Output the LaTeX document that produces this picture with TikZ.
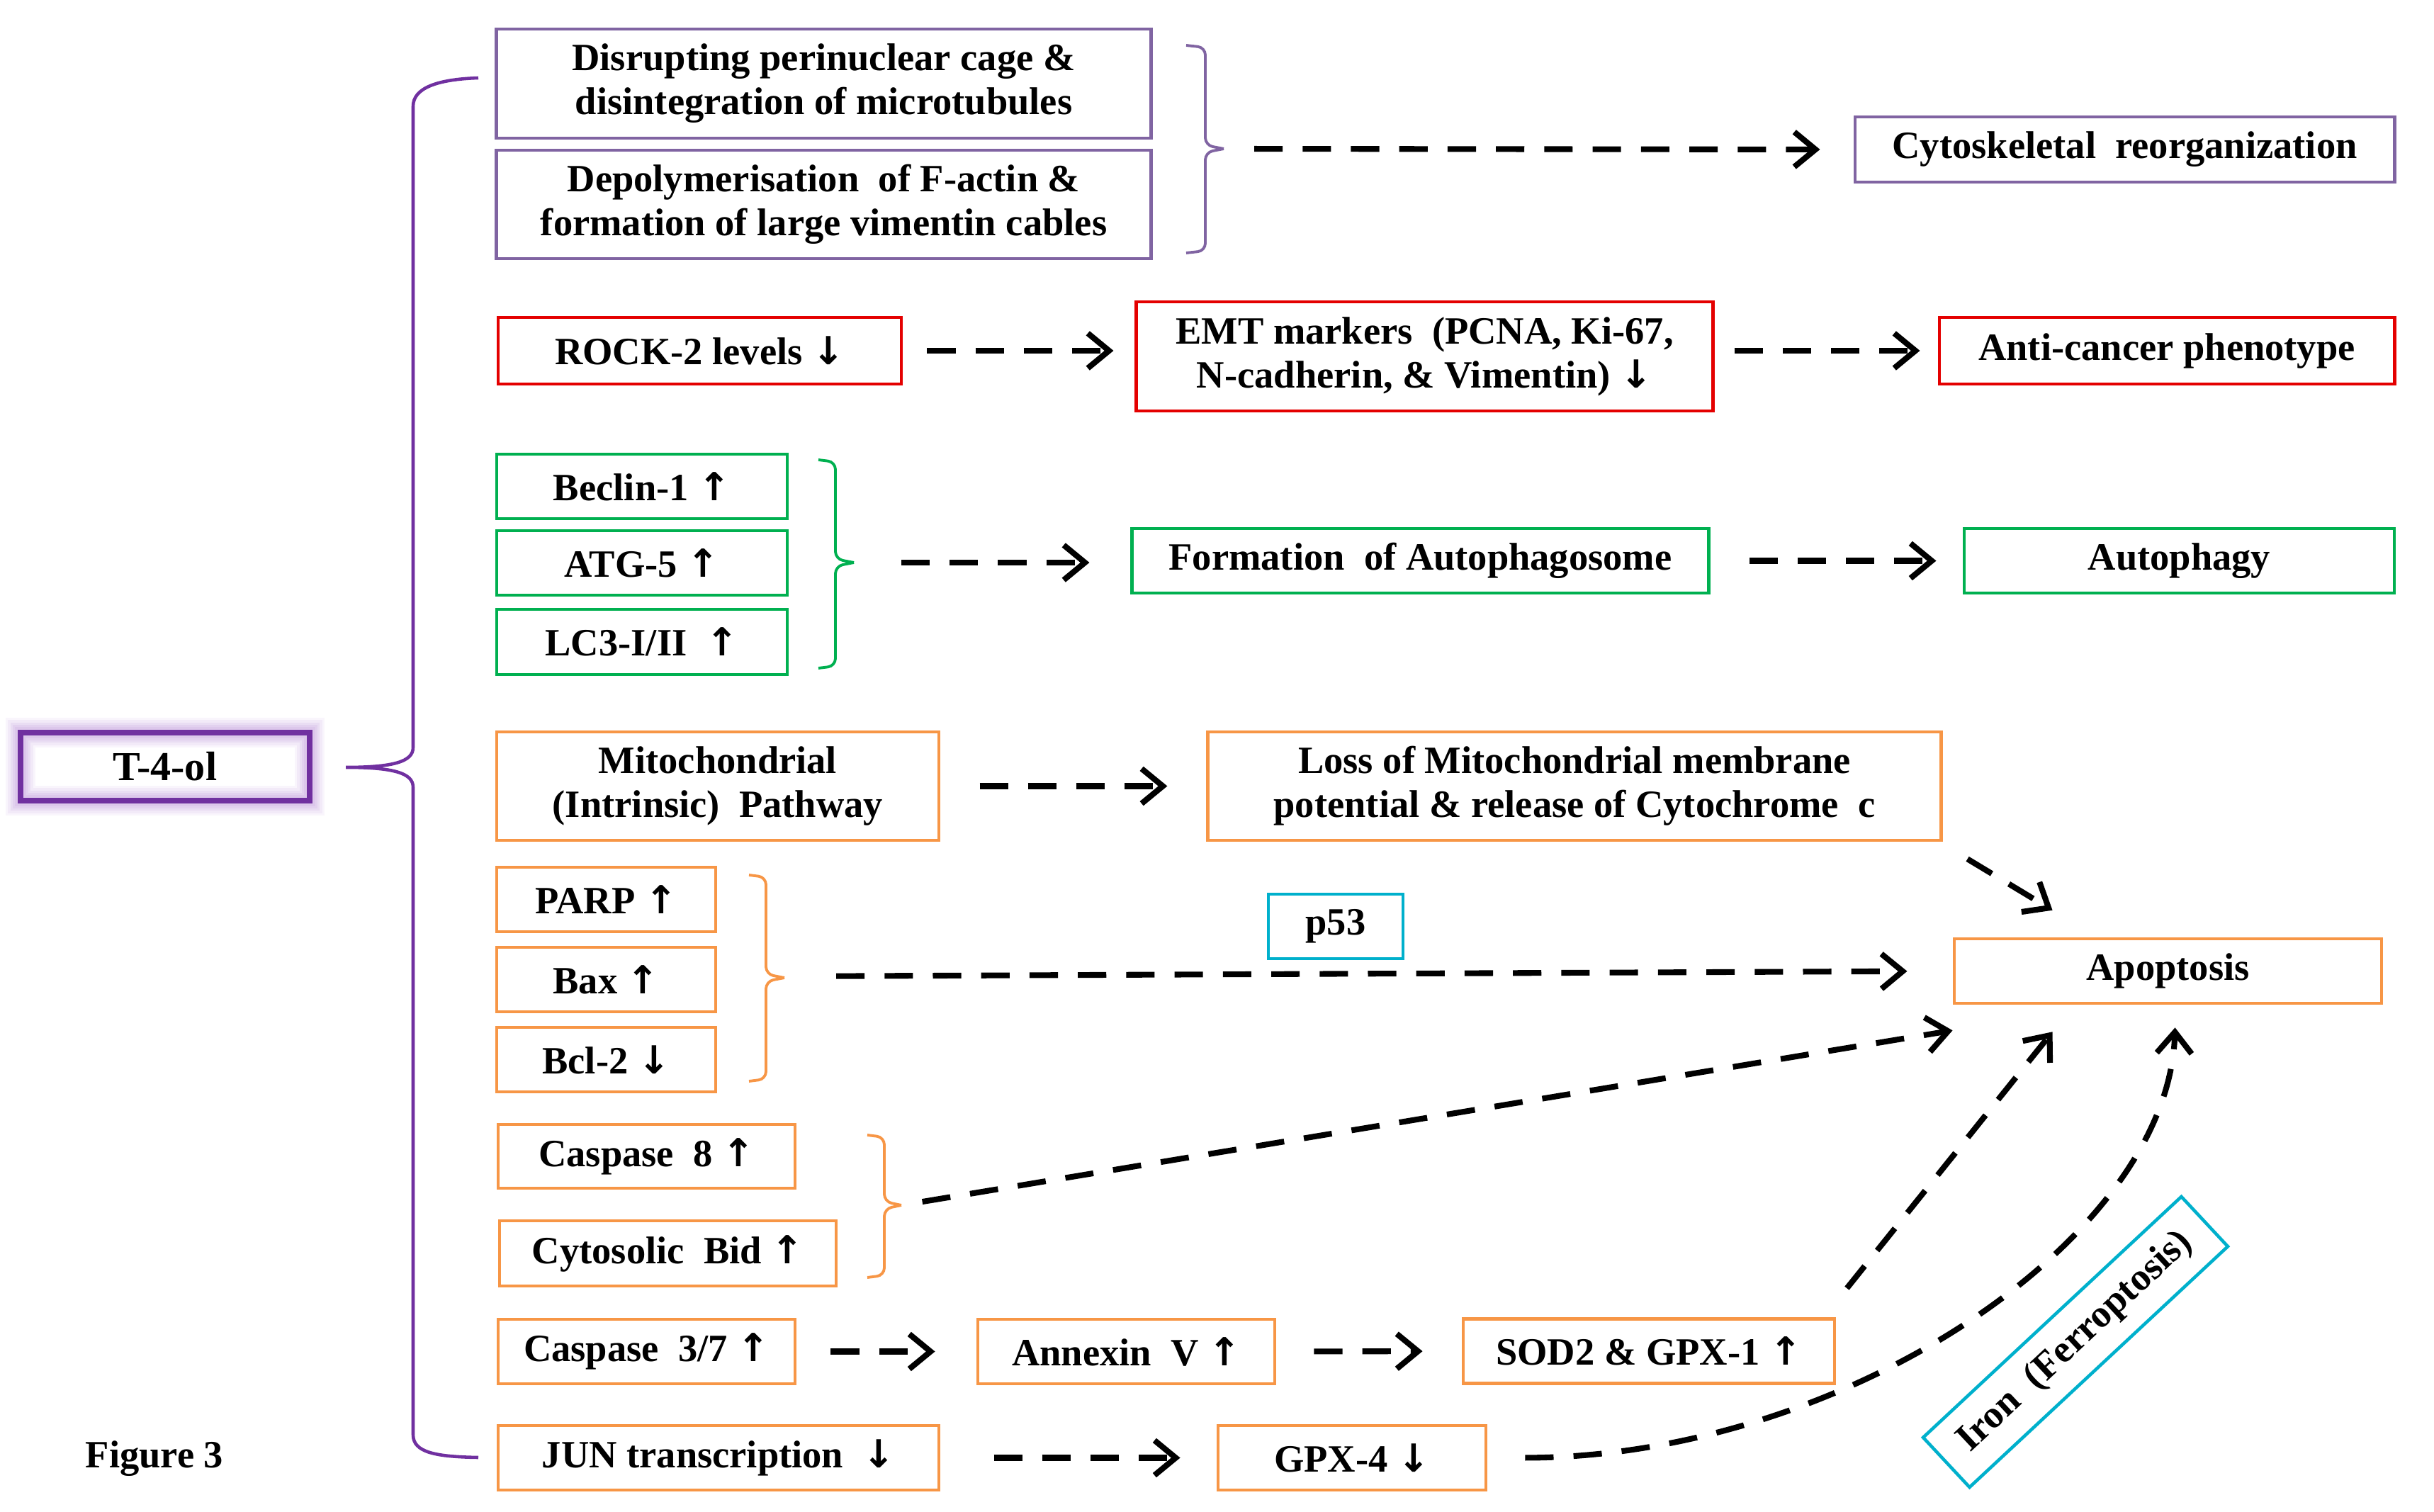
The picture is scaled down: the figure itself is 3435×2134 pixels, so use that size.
\documentclass[tikz,border=0pt]{standalone}
\usepackage{fontspec}
\setmainfont{Liberation Serif}
\newfontfamily\arrfont{DejaVu Sans}
\newcommand\uarr{{\arrfont\bfseries ↑}}
\newcommand\darr{{\arrfont\bfseries ↓}}
\usetikzlibrary{arrows.meta}
\definecolor{purp}{RGB}{128,100,162}
\definecolor{dpurp}{RGB}{112,48,160}
\definecolor{glowp}{RGB}{214,190,232}
\definecolor{redc}{RGB}{228,0,0}
\definecolor{greenc}{RGB}{0,176,80}
\definecolor{orangec}{RGB}{247,150,70}
\definecolor{cyanc}{RGB}{0,176,204}
\newcommand\mybrk[7]{%
  \draw[#1, line width=1.1pt, rounded corners=3pt] (#2,#5) -- (#3,#5+3) -- (#3,#6-5) -- (#4,#6);
  \draw[#1, line width=1.1pt, rounded corners=3pt] (#4,#6) -- (#3,#6+5) -- (#3,#7-3) -- (#2,#7);}
\begin{document}
\begin{tikzpicture}[x=0.01cm, y=-0.01cm,
  box/.style={draw, line width=1.3pt, fill=white, align=center, inner sep=0pt,
    font=\fontsize{15.5}{17.6}\selectfont\bfseries},
  arr/.style={line width=2.3pt, dash pattern=on 11.4pt off 8pt,
    -{Straight Barb[length=8.5pt, width=14pt, line width=2.3pt]}},
  bracepath/.style={dpurp, line width=1.3pt}]
\useasboundingbox (0,0) rectangle (3435,2134);

% T-4-ol with soft glow
\foreach \w/\o in {12/0.15, 10/0.2, 8/0.3, 6/0.4, 4.5/0.5}
  \draw[glowp, line width=\w pt, opacity=\o] (29,1034) rectangle (437,1130);
\node[box, draw=dpurp, line width=2.4pt, fill=none, minimum width=4.08cm, minimum height=0.96cm,
  font=\fontsize{16.5}{18}\selectfont\bfseries] (t4ol) at (233,1082) {T-4-ol};

% big brace
\draw[bracepath] (675,110) .. controls (615,112) and (583,125) .. (583,150) -- (583,1055)
  .. controls (583,1075) and (555,1083) .. (488,1083)
  .. controls (555,1083) and (583,1091) .. (583,1111) -- (583,2025)
  .. controls (583,2050) and (615,2056) .. (675,2057);

% purple group
\node[box, draw=purp, minimum width=9.23cm, minimum height=1.54cm] (dis) at (1162.5,118)
  {Disrupting perinuclear cage \&\\disintegration of microtubules};
\node[box, draw=purp, minimum width=9.23cm, minimum height=1.53cm] (dep) at (1162.5,288.5)
  {Depolymerisation \ of F-actin \&\\formation of large vimentin cables};
\node[box, draw=purp, minimum width=7.61cm, minimum height=0.92cm] (cyto) at (2998.5,211)
  {Cytoskeletal \ reorganization};
\mybrk{purp}{1674}{1701}{1727}{64}{210}{357}
\coordinate (tipA) at (1727,210);
\draw[arr, shorten <=0.43cm, shorten >=0.47cm] (tipA) -- (cyto.west);

% red row
\node[box, draw=redc, minimum width=5.69cm, minimum height=0.94cm] (rock) at (987.5,495)
  {ROCK-2 levels \darr};
\node[box, draw=redc, minimum width=8.13cm, minimum height=1.54cm] (emt) at (2010.5,503)
  {EMT markers \ (PCNA, Ki-67,\\N-cadherin, \& Vimentin) \darr};
\node[box, draw=redc, minimum width=6.42cm, minimum height=0.94cm] (anti) at (3058,495)
  {Anti-cancer phenotype};
\draw[arr, shorten <=0.34cm, shorten >=0.30cm] (rock.east) -- (rock.east -| emt.west);
\draw[arr, shorten <=0.28cm, shorten >=0.25cm] (emt.east |- anti.west) -- (anti.west);

% green group
\node[box, draw=greenc, minimum width=4.10cm, minimum height=0.91cm] (beclin) at (906,686.5)
  {Beclin-1 \uarr};
\node[box, draw=greenc, minimum width=4.10cm, minimum height=0.91cm] (atg) at (906,794.5)
  {ATG-5 \uarr};
\node[box, draw=greenc, minimum width=4.10cm, minimum height=0.92cm] (lc3) at (906,906)
  {LC3-I/II \ \uarr};
\node[box, draw=greenc, minimum width=8.13cm, minimum height=0.91cm] (form) at (2004.5,791.5)
  {Formation \ of Autophagosome};
\node[box, draw=greenc, minimum width=6.07cm, minimum height=0.91cm] (autoph) at (3075.5,791.5)
  {Autophagy};
\mybrk{greenc}{1155}{1179}{1205}{649}{794}{943}
\coordinate (tipB) at (1205,794);
\draw[arr, shorten <=0.67cm, shorten >=0.58cm] (tipB) -- (tipB -| form.west);
\draw[arr, shorten <=0.55cm, shorten >=0.37cm] (form.east) -- (autoph.west);

% orange: mitochondrial
\node[box, draw=orangec, minimum width=6.24cm, minimum height=1.53cm] (mito) at (1013,1109.5)
  {Mitochondrial\\(Intrinsic) \ Pathway};
\node[box, draw=orangec, minimum width=10.34cm, minimum height=1.53cm] (loss) at (2222,1109.5)
  {Loss of Mitochondrial membrane\\potential \& release of Cytochrome \ c};
\draw[arr, shorten <=0.55cm, shorten >=0.55cm] (mito.east) -- (loss.west);

\node[box, draw=orangec, minimum width=6.03cm, minimum height=0.91cm] (apop) at (3059.5,1370.5)
  {Apoptosis};
\draw[arr] ([shift={(35,24)}]loss.south east) -- ([shift={(141,-38)}]apop.north west);

% PARP group
\node[box, draw=orangec, minimum width=3.09cm, minimum height=0.91cm] (parp) at (855.5,1269.5)
  {PARP \uarr};
\node[box, draw=orangec, minimum width=3.09cm, minimum height=0.91cm] (bax) at (855.5,1382.5)
  {Bax \uarr};
\node[box, draw=orangec, minimum width=3.09cm, minimum height=0.91cm] (bcl) at (855.5,1495.5)
  {Bcl-2 \darr};
\mybrk{orangec}{1057}{1081}{1107}{1235}{1380}{1526}
\coordinate (tipC) at (1107,1378);
\draw[arr, shorten <=0.73cm, shorten >=0.64cm] (tipC) -- (apop.west);
\node[box, draw=cyanc, minimum width=1.90cm, minimum height=0.91cm] (p53) at (1885,1307.5)
  {p53};

% caspase 8 group
\node[box, draw=orangec, minimum width=4.19cm, minimum height=0.90cm] (casp8) at (912.5,1632)
  {Caspase \ 8 \uarr};
\node[box, draw=orangec, minimum width=4.75cm, minimum height=0.92cm] (bid) at (942.5,1769)
  {Cytosolic \ Bid \uarr};
\mybrk{orangec}{1224}{1248}{1272}{1602}{1701}{1803}
\coordinate (tipD) at (1272,1701);
\draw[arr, shorten <=0.30cm] (tipD) -- ([shift={(0,36)}]apop.south west);

% caspase 3/7 row
\node[box, draw=orangec, minimum width=4.19cm, minimum height=0.91cm] (casp37) at (912.5,1907.5)
  {Caspase \ 3/7 \uarr};
\node[box, draw=orangec, minimum width=4.19cm, minimum height=0.91cm] (annex) at (1589.5,1907.5)
  {Annexin \ V \uarr};
\node[box, draw=orangec, minimum width=5.24cm, minimum height=0.91cm] (sod) at (2327,1907)
  {SOD2 \& GPX-1 \uarr};
\draw[arr, shorten <=0.48cm, shorten >=0.58cm] (casp37.east) -- (annex.west);
\draw[arr, shorten <=0.53cm, shorten >=0.55cm] (annex.east) -- (sod.west);
\draw[arr] ([shift={(15,-41)}]sod.north east) -- ([shift={(141,38)}]apop.south west);

% JUN row
\node[box, draw=orangec, minimum width=6.22cm, minimum height=0.91cm] (jun) at (1014,2057.5)
  {JUN transcription \ \darr};
\node[box, draw=orangec, minimum width=3.78cm, minimum height=0.91cm] (gpx4) at (1908,2057.5)
  {GPX-4 \darr};
\draw[arr, shorten <=0.75cm, shorten >=0.51cm] (jun.east) -- (gpx4.west);
\draw[arr, shorten <=0.53cm] (gpx4.east) .. controls (2600,2057) and (3060,1750) .. ([shift={(314,32)}]apop.south west);

% Iron box
\node[box, draw=cyanc, rotate=43, minimum width=4.98cm, minimum height=0.96cm] (iron) at (2929,1894)
  {Iron \ (Ferroptosis)};

% caption
\node[font=\fontsize{15.5}{17.6}\selectfont\bfseries] (fig) at (218,2059) {Figure 3};
\end{tikzpicture}
\end{document}
